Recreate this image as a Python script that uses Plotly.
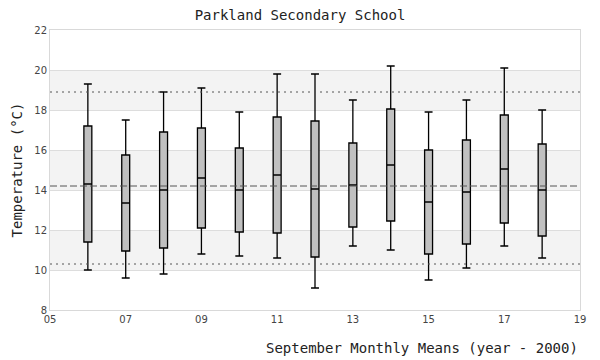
import plotly.graph_objects as go

years = [6, 7, 8, 9, 10, 11, 12, 13, 14, 15, 16, 17, 18]
upper = [19.3, 17.5, 18.9, 19.1, 17.9, 19.8, 19.8, 18.5, 20.2, 17.9, 18.5, 20.1, 18.0]
q3 = [17.2, 15.75, 16.9, 17.1, 16.1, 17.65, 17.45, 16.35, 18.05, 16.0, 16.5, 17.75, 16.3]
median = [14.3, 13.35, 14.0, 14.6, 14.0, 14.75, 14.05, 14.25, 15.25, 13.4, 13.9, 15.05, 14.0]
q1 = [11.4, 10.95, 11.1, 12.1, 11.9, 11.85, 10.65, 12.15, 12.45, 10.8, 11.3, 12.35, 11.7]
lower = [10.0, 9.6, 9.8, 10.8, 10.7, 10.6, 9.1, 11.2, 11.0, 9.5, 10.1, 11.2, 10.6]

ref_levels = [18.9, 14.2, 10.3]
ref_dash = ["2px,4px", "7px,3px", "2px,4px"]
bands = [(10, 12), (14, 16), (18, 20)]

xtick_vals = [5, 7, 9, 11, 13, 15, 17, 19]
xtick_text = ["%02d" % v for v in xtick_vals]
ytick_vals = [8, 10, 12, 14, 16, 18, 20, 22]

mono = "DejaVu Sans Mono"

fig = go.Figure()
fig.add_trace(go.Box(
    x=years, q1=q1, median=median, q3=q3,
    lowerfence=lower, upperfence=upper,
    boxpoints=False, width=0.21, whiskerwidth=1.0,
    fillcolor="#c0c0c0", line=dict(color="black", width=1.3),
    showlegend=False, hoverinfo="skip",
))

shapes = []
for lo, hi in bands:
    shapes.append(dict(type="rect", xref="paper", yref="y", x0=0, x1=1, y0=lo, y1=hi,
                       fillcolor="#f3f3f3", line=dict(width=0), layer="below"))
for lvl, d in zip(ref_levels, ref_dash):
    shapes.append(dict(type="line", xref="paper", yref="y", x0=0, x1=1, y0=lvl, y1=lvl,
                       line=dict(color="#555555", width=1, dash=d), layer="above"))

fig.update_layout(
    width=600, height=360,
    margin=dict(l=50, r=20, t=30, b=50, autoexpand=False),
    paper_bgcolor="white", plot_bgcolor="white",
    title=dict(text="Parkland Secondary School", x=0.5, xanchor="center",
               y=1 - 15 / 360, yanchor="middle", font=dict(family=mono, size=14, color="#222222")),
    shapes=shapes,
    annotations=[dict(text="September Monthly Means (year - 2000)", xref="paper", yref="paper",
                      x=1.0, y=-38 / 280, xanchor="right", yanchor="middle", showarrow=False,
                      font=dict(family=mono, size=14, color="#222222"))],
    xaxis=dict(range=[5, 19], tickvals=xtick_vals, ticktext=xtick_text, automargin=False,
               showgrid=False, zeroline=False, showline=True, mirror=True,
               linecolor="#d9d9d9", linewidth=1, ticks="",
               tickfont=dict(family="DejaVu Sans", size=10, color="#444444")),
    yaxis=dict(range=[8, 22], tickvals=ytick_vals, showgrid=True, gridcolor="#dddddd",
               automargin=False,
               zeroline=False, showline=True, mirror=True, linecolor="#d9d9d9", linewidth=1,
               ticks="", tickfont=dict(family="DejaVu Sans", size=10, color="#444444"),
               title=dict(text="Temperature (\u00b0C)",
                          font=dict(family=mono, size=14, color="#222222"), standoff=8)),
)
fig.write_html("out.html", config={"displayModeBar": False},
               post_script="document.body.style.margin='0';document.body.style.overflow='hidden';")
